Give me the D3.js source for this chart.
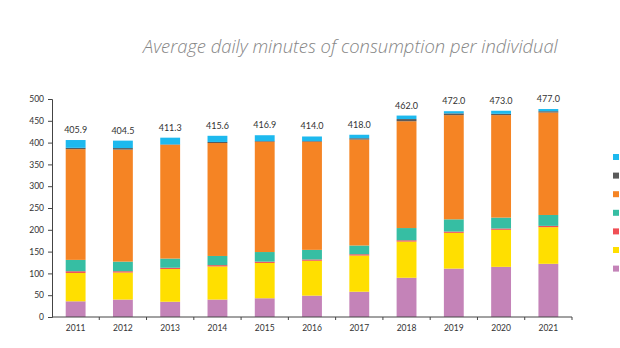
<!DOCTYPE html>
<html><head><meta charset="utf-8">
<script src="https://cdn.jsdelivr.net/npm/d3@7"></script>
<style>body{margin:0;background:#fff}svg{display:block}</style>
</head><body><svg id="c" width="620" height="348"></svg>
<script>
const years = ["2011","2012","2013","2014","2015","2016","2017","2018","2019","2020","2021"];
const seriesPink   = [36, 40, 35, 40, 43, 49, 58, 90, 111, 115, 122];
const seriesYellow = [65, 62, 75, 76, 81, 80, 83, 83, 82, 85, 84];
const seriesRed    = [4, 3, 3, 3, 3, 3, 3, 3, 3, 3, 3];
const seriesTeal   = [26, 22, 21, 21, 22, 22, 20, 28, 28, 25, 25];
const seriesOrange = [254, 257, 261, 259, 253, 248, 243, 245, 239, 235, 235];
const seriesGray   = [3, 3.5, 1, 2.5, 1.5, 1.5, 3, 5, 4, 3, 3];
const seriesBlue   = [17.9, 17, 15.3, 14.1, 13.4, 10.5, 8, 8, 5, 7, 5];
const totals = ["405.9","404.5","411.3","415.6","416.9","414.0","418.0","462.0","472.0","473.0","477.0"];
const yTicks = [0,50,100,150,200,250,300,350,400,450,500];
const seriesList = [
  {key:"pink", values:seriesPink, color:"#c483b8"},
  {key:"yellow", values:seriesYellow, color:"#ffdf00"},
  {key:"red", values:seriesRed, color:"#f04f55"},
  {key:"teal", values:seriesTeal, color:"#36bea3"},
  {key:"orange", values:seriesOrange, color:"#f58424"},
  {key:"gray", values:seriesGray, color:"#5a5a5a"},
  {key:"blue", values:seriesBlue, color:"#1db9ee"}
];
const legendOrder = ["blue","gray","orange","teal","red","yellow","pink"];

const svg = d3.select("#c");
const x = d3.scaleBand().domain(years).range([52,572]).paddingInner(0.58).paddingOuter(0.29);
const y = d3.scaleLinear().domain([0,500]).range([317,99]);

const rows = years.map((yr,i)=>{const r={year:yr}; seriesList.forEach(s=>r[s.key]=s.values[i]); return r;});
const stack = d3.stack().keys(seriesList.map(s=>s.key))(rows);
const colorOf = Object.fromEntries(seriesList.map(s=>[s.key,s.color]));

svg.append("g").selectAll("g").data(stack).join("g").attr("fill",d=>colorOf[d.key])
  .selectAll("rect").data(d=>d).join("rect")
  .attr("x",d=>x(d.data.year)).attr("width",x.bandwidth())
  .attr("y",d=>y(d[1])).attr("height",d=>y(d[0])-y(d[1]));

// totals
svg.append("g").selectAll("text").data(years).join("text")
  .attr("x",d=>x(d)+x.bandwidth()/2)
  .attr("y",(d,i)=>y(d3.sum(seriesList,s=>s.values[i]))-7)
  .attr("text-anchor","middle").attr("font-family","Lato, sans-serif").attr("font-size",9)
  .attr("fill","#333").text((d,i)=>totals[i]);

// y axis
const yAxis = svg.append("g").attr("transform","translate(52,0)")
  .call(d3.axisLeft(y).tickValues(yTicks).tickSize(4).tickPadding(4));
yAxis.select(".domain").attr("stroke","#444");
yAxis.selectAll("line").attr("stroke","#444");
yAxis.selectAll("text").attr("font-family","Lato, sans-serif").attr("font-size",8.5).attr("fill","#333");

// x axis
const xg = svg.append("g").attr("transform","translate(0,317)");
xg.append("line").attr("x1",52).attr("x2",572).attr("stroke","#444");
const step = x.step();
xg.selectAll(".tk").data(years).join("line").attr("class","tk")
  .attr("x1",d=>x(d)-x.paddingOuter()*step+step).attr("x2",d=>x(d)-x.paddingOuter()*step+step)
  .attr("y1",0).attr("y2",3).attr("stroke","#444");
xg.selectAll("text").data(years).join("text")
  .attr("x",d=>x(d)+x.bandwidth()/2).attr("y",14)
  .attr("text-anchor","middle").attr("font-family","Lato, sans-serif").attr("font-size",8.5)
  .attr("fill","#333").text(d=>d);

// legend
svg.append("g").selectAll("rect").data(legendOrder).join("rect")
  .attr("x",613).attr("y",(d,i)=>154+i*18.6).attr("width",6).attr("height",6)
  .attr("fill",d=>colorOf[d]);

// title
const t = svg.append("text").attr("x",143).attr("y",53)
  .attr("font-family","'Open Sans', sans-serif").attr("font-style","italic").attr("font-weight",300)
  .attr("font-size",19).attr("fill","#858585")
  .text("Average daily minutes of consumption per individual");
const w = t.node().getComputedTextLength();
t.attr("font-size", 19*415/w);
</script></body></html>
